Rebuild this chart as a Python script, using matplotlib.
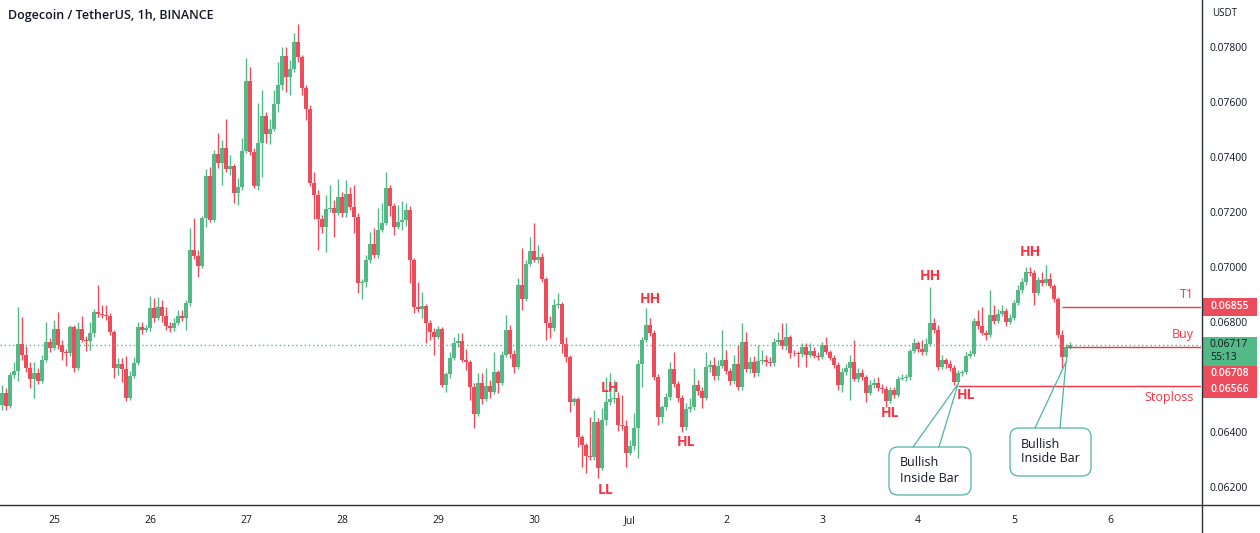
import numpy as np
import pandas as pd
import matplotlib
matplotlib.use("Agg")
import matplotlib.pyplot as plt
import matplotlib.dates as mdates
from matplotlib.ticker import FuncFormatter
from matplotlib.patches import FancyBboxPatch, Rectangle
from matplotlib.lines import Line2D
from matplotlib.transforms import Affine2D

plt.rcParams['font.family'] = ['Open Sans', 'DejaVu Sans']

# hourly DOGE/USDT candles, prices in 1e-5 USDT, first candle 24 Jun 11:00
first_open = 6498
closes = [
    6541, 6494, 6607, 6622, 6720, 6680, 6632, 6592, 6614, 6585, 6662, 6727, 6705,
    6774, 6716, 6691, 6687, 6782, 6632, 6774, 6734, 6731, 6760, 6836, 6829, 6825, 6822, 6764, 6632, 6647, 6629, 6523, 6603, 6651, 6782, 6771, 6778,
    6851, 6815, 6855, 6822, 6785, 6778, 6796, 6822, 6815, 6869, 7062, 7040, 7004, 7179, 7332, 7172, 7412, 7379, 7434, 7357, 7368, 7270, 7292, 7423,
    7678, 7419, 7295, 7452, 7550, 7485, 7503, 7594, 7663, 7769, 7692, 7722, 7820, 7765, 7652, 7576, 7306, 7263, 7175, 7146, 7212, 7215, 7197, 7255,
    7197, 7266, 7219, 7182, 6942, 6946, 7026, 7084, 7044, 7135, 7161, 7288, 7223, 7146, 7164, 7172, 7208, 7026, 6855, 6847, 6858, 6796, 6764, 6745,
    6774, 6570, 6611, 6669, 6723, 6731, 6662, 6654, 6563, 6465, 6578, 6519, 6567, 6545, 6618, 6578, 6680, 6771, 6683, 6636, 6935, 6884, 7011, 7059,
    7026, 7037, 6957, 6796, 6778, 6862, 6866, 6720, 6672, 6508, 6519, 6381, 6352, 6312, 6308, 6436, 6268, 6443, 6508, 6519, 6523, 6425, 6421, 6323,
    6348, 6414, 6647, 6734, 6789, 6760, 6600, 6454, 6490, 6527, 6629, 6574, 6523, 6417, 6483, 6490, 6570, 6549, 6523, 6636, 6643, 6603, 6640, 6662,
    6621, 6585, 6647, 6563, 6727, 6629, 6654, 6614, 6658, 6662, 6654, 6651, 6727, 6734, 6713, 6745, 6687, 6686, 6683, 6709, 6680, 6694, 6676, 6672,
    6716, 6691, 6669, 6643, 6570, 6618, 6632, 6654, 6592, 6614, 6600, 6541, 6570, 6578, 6560, 6556, 6512, 6552, 6534, 6592, 6596, 6600, 6694, 6723,
    6702, 6691, 6720, 6796, 6771, 6636, 6662, 6647, 6632, 6581, 6614, 6618, 6676, 6683, 6804, 6785, 6760, 6753, 6825, 6804, 6829, 6840, 6800, 6815,
    6869, 6917, 6946, 6982, 6978, 6906, 6953, 6942, 6957, 6931, 6884, 6753, 6672, 6709, 6717,
]
highs = [
    6570, 6560, 6618, 6654, 6855, 6818, 6713, 6654, 6654, 6632, 6680, 6800, 6742,
    6807, 6836, 6734, 6702, 6789, 6789, 6800, 6822, 6749, 6800, 6847, 6935, 6862, 6862, 6833, 6771, 6669, 6669, 6676, 6622, 6672, 6800, 6800, 6789,
    6895, 6887, 6891, 6880, 6855, 6800, 6815, 6844, 6844, 6880, 7142, 7179, 7062, 7186, 7357, 7365, 7427, 7488, 7463, 7539, 7408, 7375, 7324, 7470,
    7762, 7729, 7434, 7598, 7645, 7565, 7539, 7645, 7747, 7802, 7802, 7754, 7853, 7886, 7773, 7663, 7590, 7346, 7281, 7190, 7263, 7299, 7244, 7321,
    7274, 7317, 7292, 7299, 7197, 6957, 7044, 7128, 7142, 7215, 7233, 7346, 7299, 7233, 7226, 7241, 7233, 7223, 7033, 6946, 6909, 6866, 6807, 6778,
    6785, 6782, 6618, 6691, 6745, 6760, 6760, 6702, 6662, 6578, 6614, 6614, 6632, 6589, 6691, 6625, 6694, 6825, 6789, 6698, 6960, 7069, 7026, 7110,
    7161, 7080, 7051, 6964, 6822, 6884, 6906, 6873, 6745, 6680, 6527, 6527, 6388, 6359, 6454, 6479, 6450, 6487, 6600, 6614, 6589, 6545, 6534, 6443,
    6370, 6468, 6662, 6745, 6851, 6815, 6771, 6611, 6498, 6541, 6654, 6691, 6585, 6534, 6505, 6523, 6632, 6589, 6563, 6691, 6662, 6672, 6662, 6771,
    6698, 6632, 6680, 6716, 6796, 6764, 6672, 6676, 6716, 6698, 6680, 6672, 6742, 6764, 6796, 6796, 6753, 6698, 6694, 6723, 6723, 6723, 6709, 6691,
    6727, 6745, 6698, 6680, 6654, 6632, 6647, 6680, 6734, 6632, 6629, 6607, 6589, 6596, 6600, 6574, 6567, 6563, 6563, 6603, 6611, 6611, 6702, 6742,
    6731, 6734, 6742, 6927, 6815, 6789, 6680, 6669, 6662, 6643, 6625, 6625, 6691, 6698, 6815, 6844, 6855, 6771, 6917, 6862, 6847, 6862, 6851, 6829,
    6880, 6935, 6960, 7000, 7000, 6989, 6964, 6982, 7007, 6978, 6938, 6891, 6771, 6720, 6727,
]
lows = [
    6479, 6479, 6487, 6596, 6585, 6662, 6618, 6560, 6523, 6574, 6578, 6654, 6691,
    6698, 6702, 6662, 6640, 6676, 6618, 6625, 6727, 6694, 6698, 6745, 6818, 6815, 6807, 6753, 6596, 6607, 6581, 6512, 6516, 6596, 6643, 6756, 6764,
    6767, 6800, 6807, 6800, 6771, 6764, 6767, 6789, 6804, 6771, 6858, 7029, 6964, 6997, 7146, 7164, 7164, 7361, 7299, 7346, 7335, 7233, 7226, 7281,
    7416, 7408, 7288, 7281, 7328, 7452, 7448, 7496, 7565, 7645, 7638, 7627, 7711, 7747, 7627, 7536, 7295, 7175, 7062, 7124, 7055, 7201, 7110, 7190,
    7182, 7182, 7208, 7124, 6906, 6884, 6927, 7015, 7033, 7033, 7128, 7153, 7186, 7117, 7139, 7135, 7150, 6942, 6833, 6836, 6815, 6723, 6734, 6680,
    6738, 6563, 6545, 6596, 6662, 6709, 6654, 6625, 6516, 6414, 6458, 6501, 6512, 6523, 6538, 6541, 6570, 6672, 6669, 6614, 6629, 6844, 6877, 7004,
    7018, 7015, 6946, 6734, 6742, 6767, 6851, 6687, 6654, 6472, 6498, 6345, 6272, 6250, 6297, 6297, 6232, 6261, 6425, 6498, 6505, 6403, 6406, 6272,
    6315, 6334, 6305, 6563, 6727, 6749, 6589, 6425, 6432, 6479, 6516, 6563, 6508, 6399, 6406, 6472, 6479, 6534, 6487, 6516, 6618, 6589, 6589, 6632,
    6611, 6570, 6574, 6552, 6552, 6618, 6614, 6600, 6603, 6647, 6640, 6640, 6640, 6716, 6702, 6698, 6669, 6676, 6636, 6672, 6636, 6672, 6669, 6662,
    6665, 6683, 6662, 6632, 6552, 6545, 6607, 6516, 6585, 6581, 6589, 6508, 6534, 6560, 6549, 6541, 6490, 6505, 6523, 6527, 6589, 6585, 6589, 6687,
    6691, 6680, 6680, 6713, 6760, 6625, 6629, 6632, 6621, 6570, 6574, 6603, 6611, 6669, 6676, 6774, 6753, 6734, 6745, 6793, 6796, 6822, 6785, 6793,
    6807, 6862, 6906, 6935, 6967, 6862, 6898, 6931, 6935, 6924, 6873, 6742, 6632, 6654, 6702,
]

# trade levels
t1_price = 0.06855
buy_price = 0.06708
stop_price = 0.06566
countdown = "55:13"

# swing labels: text, candle index, price
swings = [
    ("LL", 151, 0.06188), ("LH", 152, 0.06560), ("HH", 162, 0.06884),
    ("HL", 171, 0.06363), ("HL", 222, 0.06468), ("HH", 232, 0.06967),
    ("HL", 241, 0.06534), ("HH", 257, 0.07055),
]

closes = np.array(closes) / 1e5
highs = np.array(highs) / 1e5
lows = np.array(lows) / 1e5
opens = np.r_[first_open / 1e5, closes[:-1]]
highs = np.maximum(highs, np.maximum(opens, closes))
lows = np.minimum(lows, np.minimum(opens, closes))

up_col = '#53b987'
dn_col = '#eb4d5c'
lbl_red = '#f23645'
txt_col = '#131722'

W, H = 1260, 533
fig = plt.figure(figsize=(W / 100, H / 100), dpi=100)
ax = fig.add_axes([0, 28 / H, 1201 / W, 505 / H])

times = pd.date_range('2021-06-24 11:00', periods=len(closes), freq='h')
x = mdates.date2num(times.to_pydatetime())
up = closes >= opens
cols = np.where(up, up_col, dn_col)

ax.vlines(x, lows, highs, colors=cols, linewidth=1)
ax.bar(x, np.maximum(np.abs(closes - opens), 0.000015), bottom=np.minimum(opens, closes),
       width=0.8 / 24, color=cols, linewidth=0)

t0 = mdates.date2num(pd.Timestamp('2021-06-25').to_pydatetime())
x_left = t0 - 13.5 / 24
x_right = t0 + 286.75 / 24
ax.set_xlim(x_left, x_right)
ax.set_ylim(0.06133, 0.07973)

# last price dotted line
ax.axhline(closes[-1], color=up_col, lw=1, ls=(0, (1, 2)))

# trade level lines
ax.hlines(t1_price, x[265], x_right, color=lbl_red, lw=1)
ax.hlines(buy_price, x[266], x_right, color=lbl_red, lw=1)
ax.hlines(stop_price, x[239], x_right, color=lbl_red, lw=1)

# axes styling
for s in ax.spines.values():
    s.set_visible(False)
ax.yaxis.tick_right()
ax.set_yticks([0.062, 0.064, 0.068, 0.070, 0.072, 0.074, 0.076, 0.078])
ax.yaxis.set_major_formatter(FuncFormatter(lambda v, p: f"{v:.5f}"))
ax.tick_params(axis='y', length=0, pad=6, labelsize=7.5, labelcolor=txt_col)
ax.xaxis.set_major_locator(mdates.DayLocator())
ax.xaxis.set_major_formatter(FuncFormatter(
    lambda v, p: 'Jul' if mdates.num2date(v).day == 1 else str(mdates.num2date(v).day)))
ax.tick_params(axis='x', length=0, pad=7, labelsize=7.5, labelcolor=txt_col)

# pixel transform (origin top-left)
pix = Affine2D().scale(1, -1).translate(0, H)


def to_px(xv, yv):
    dx, dy = ax.transData.transform((xv, yv))
    return dx, H - dy


fig.add_artist(Line2D([0, W], [505, 505], transform=pix, color='#2a2e39', lw=1))
fig.add_artist(Line2D([1201.5, 1201.5], [0, H], transform=pix, color='#2a2e39', lw=1))

fig.text(8, 16, "Dogecoin / TetherUS, 1h, BINANCE", transform=pix, fontsize=9,
         fontweight='semibold', color=txt_col, va='center', ha='left')
fig.text(1212, 13, "USDT", transform=pix, fontsize=7, color=txt_col, va='center')

# swing labels
for s, i, p in swings:
    ax.text(x[i], p, s, color=lbl_red, fontsize=10, fontweight='bold', ha='center', va='center')

# level texts
_, yt1 = to_px(x_right, t1_price)
_, ybuy = to_px(x_right, buy_price)
_, ystop = to_px(x_right, stop_price)
fig.text(1194, yt1 - 12, "T1", transform=pix, color=lbl_red, fontsize=9, ha='right', va='center')
fig.text(1194, ybuy - 13, "Buy", transform=pix, color=lbl_red, fontsize=9, ha='right', va='center')
fig.text(1194, ystop + 11, "Stoploss", transform=pix, color=lbl_red, fontsize=9, ha='right', va='center')

# price scale badges
_, ylast = to_px(x_right, closes[-1])
fig.add_artist(Rectangle((1203, yt1 - 9), 54, 18, transform=pix, fc=dn_col, ec='none'))
fig.text(1230, yt1, f"{t1_price:.5f}", transform=pix, color='white', fontsize=7.5,
         fontweight='semibold', ha='center', va='center')
fig.add_artist(Rectangle((1203, ylast - 8), 54, 29, transform=pix, fc=up_col, ec='none'))
fig.text(1210, ylast, f"{closes[-1]:.5f}", transform=pix, color=txt_col, fontsize=7.5, ha='left', va='center')
fig.text(1210, ylast + 13, countdown, transform=pix, color=txt_col, fontsize=7.5, ha='left', va='center')
fig.add_artist(Rectangle((1203, ylast + 21), 54, 32, transform=pix, fc=dn_col, ec='none'))
fig.text(1230, ylast + 29, f"{buy_price:.5f}", transform=pix, color='white', fontsize=7.5,
         fontweight='semibold', ha='center', va='center')
fig.text(1230, ylast + 45, f"{stop_price:.5f}", transform=pix, color='white', fontsize=7.5,
         fontweight='semibold', ha='center', va='center')

# callouts
box_col = '#4fb3a8'


def callout(tip_i, tip_p, bx, by, bw, bh, a, b):
    tx, ty = to_px(x[tip_i], tip_p)
    fig.add_artist(Line2D([bx + a, tx, bx + b], [by, ty, by], transform=pix, color=box_col, lw=0.9))
    fig.add_artist(FancyBboxPatch((bx, by), bw, bh, transform=pix,
                                  boxstyle="round,pad=0,rounding_size=9",
                                  fc='white', ec=box_col, lw=0.9))
    fig.text(bx + 11, by + 16, "Bullish", transform=pix, color=txt_col, fontsize=9, va='center')
    fig.text(bx + 11, by + 31, "Inside Bar", transform=pix, color=txt_col, fontsize=9, va='center')


callout(239, lows[239], 889, 447, 82, 48, 24, 50)
callout(266, lows[266], 1010, 428, 81, 48, 25, 50)

fig.savefig('out.png', dpi=100)
